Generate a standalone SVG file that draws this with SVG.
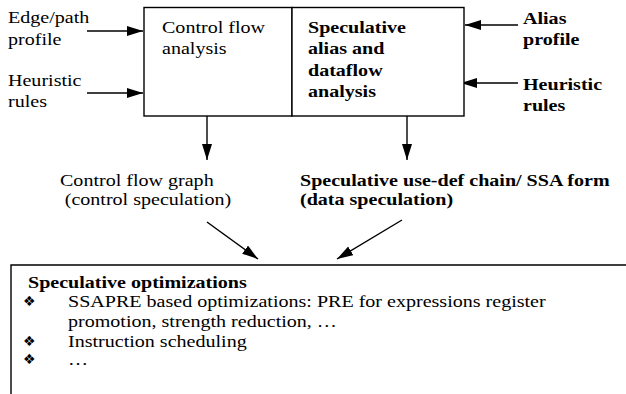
<svg xmlns="http://www.w3.org/2000/svg" width="626" height="394" viewBox="0 0 626 394">
<style>
  text { font-family: "Liberation Serif", "Times New Roman", serif; font-size: 17px; fill: #000; }
  .b { font-weight: bold; }
  .box { fill: #fff; stroke: #000; stroke-width: 1.4; }
  .ln { fill: none; stroke: #000; stroke-width: 1.4; }
  .bul { font-family: "DejaVu Sans", sans-serif; font-size: 14px; }
</style>
<defs>
  <marker id="ah" markerUnits="userSpaceOnUse" markerWidth="17" markerHeight="11" refX="16" refY="5" orient="auto">
    <path d="M0,0 L16,5 L0,10 z" fill="#000"/>
  </marker>
</defs>
<rect width="626" height="394" fill="#fff"/>

<g id="connectors">
  <line class="ln" x1="87" y1="31" x2="143" y2="31" marker-end="url(#ah)"/>
  <line class="ln" x1="87" y1="93" x2="143" y2="93" marker-end="url(#ah)"/>
  <line class="ln" x1="518" y1="25" x2="465" y2="25" marker-end="url(#ah)"/>
  <line class="ln" x1="518" y1="83" x2="461" y2="83" marker-end="url(#ah)"/>
  <line class="ln" x1="207" y1="116" x2="207" y2="160" marker-end="url(#ah)"/>
  <line class="ln" x1="407" y1="116" x2="407" y2="160" marker-end="url(#ah)"/>
  <line class="ln" x1="207" y1="222" x2="258" y2="259" marker-end="url(#ah)"/>
  <line class="ln" x1="402" y1="220" x2="337" y2="259" marker-end="url(#ah)"/>
</g>

<g id="edge-path-profile">
  <text transform="translate(8 23) scale(1.18 1)"><tspan x="0" y="0">Edge/path</tspan><tspan x="0" y="22">profile</tspan></text>
</g>
<g id="heuristic-rules-left">
  <text transform="translate(8 86) scale(1.18 1)"><tspan x="0" y="0">Heuristic</tspan><tspan x="0" y="21">rules</tspan></text>
</g>

<g id="control-flow-analysis">
  <rect class="box" x="144" y="7.5" width="148" height="108.5"/>
  <text transform="translate(162 33) scale(1.18 1)"><tspan x="0" y="0">Control flow</tspan><tspan x="0" y="21">analysis</tspan></text>
</g>

<g id="speculative-alias-analysis">
  <rect class="box" x="292" y="7.5" width="172" height="108.5"/>
  <text class="b" transform="translate(308 33) scale(1.18 1)"><tspan x="0" y="0">Speculative</tspan><tspan x="0" y="21.3">alias and</tspan><tspan x="0" y="42.6">dataflow</tspan><tspan x="0" y="64">analysis</tspan></text>
</g>

<g id="alias-profile">
  <text class="b" transform="translate(523 24) scale(1.18 1)"><tspan x="0" y="0">Alias</tspan><tspan x="0" y="21">profile</tspan></text>
</g>
<g id="heuristic-rules-right">
  <text class="b" transform="translate(523 90) scale(1.18 1)"><tspan x="0" y="0">Heuristic</tspan><tspan x="0" y="21">rules</tspan></text>
</g>

<g id="control-flow-graph">
  <text transform="translate(60 186) scale(1.18 1)"><tspan x="0" y="0">Control flow graph</tspan><tspan x="4" y="19">(control speculation)</tspan></text>
</g>

<g id="speculative-use-def">
  <text class="b" transform="translate(300 186) scale(1.18 1)"><tspan x="0" y="0">Speculative use-def chain/ SSA form</tspan><tspan x="0" y="19">(data speculation)</tspan></text>
</g>

<g id="speculative-optimizations">
  <path class="box" d="M11,400 V265 H630"/>
  <text class="b" transform="translate(28 288) scale(1.18 1)">Speculative optimizations</text>
  <text class="bul" x="23" y="306">❖</text>
  <text transform="translate(68 307) scale(1.18 1)"><tspan x="0" y="0">SSAPRE based optimizations: PRE for expressions register</tspan><tspan x="0" y="20">promotion, strength reduction, …</tspan></text>
  <text class="bul" x="23" y="346">❖</text>
  <text transform="translate(68 347) scale(1.18 1)">Instruction scheduling</text>
  <text class="bul" x="23" y="364">❖</text>
  <text transform="translate(68 365) scale(1.18 1)">…</text>
</g>
</svg>
